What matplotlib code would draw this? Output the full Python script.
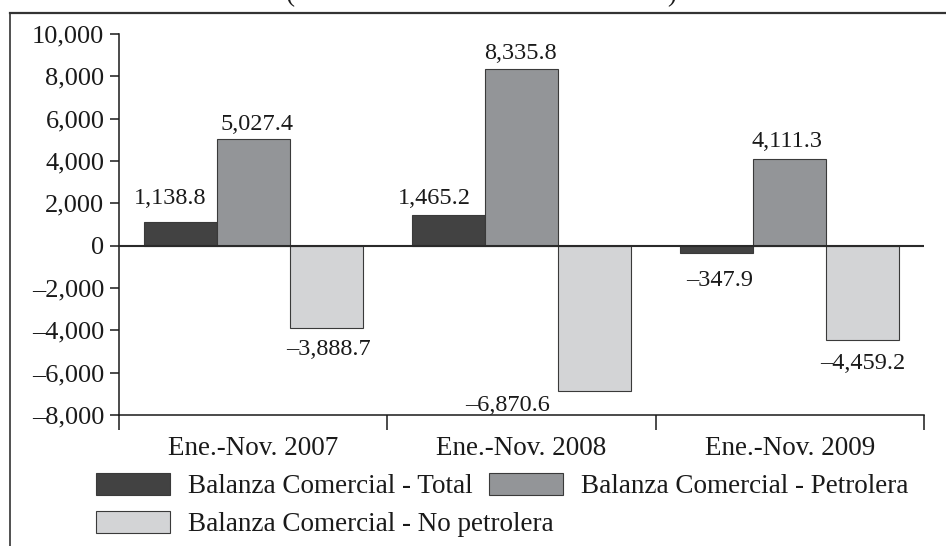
import matplotlib
matplotlib.use("Agg")
import matplotlib.pyplot as plt
import numpy as np
from matplotlib.patches import Patch
from matplotlib.lines import Line2D
from matplotlib.ticker import FixedLocator, FuncFormatter

categories = ["Ene.-Nov. 2007", "Ene.-Nov. 2008", "Ene.-Nov. 2009"]
series_names = ["Balanza Comercial - Total", "Balanza Comercial - Petrolera",
                "Balanza Comercial - No petrolera"]
total = [1138.8, 1465.2, -347.9]
petrolera = [5027.4, 8335.8, 4111.3]
no_petrolera = [-3888.7, -6870.6, -4459.2]
yticks = [-8000, -6000, -4000, -2000, 0, 2000, 4000, 6000, 8000, 10000]

colors = ["#424242", "#939598", "#d3d4d6"]
num_font = "Liberation Serif"
txt_font = "Liberation Serif"

def fmt(v, decimals=1):
    s = f"{abs(v):,.{decimals}f}"
    return ("\u2013" + s) if v < 0 else s

fig = plt.figure(figsize=(9.46, 5.46), dpi=100)
ax = fig.add_axes([119/946, 1-415/546, (924-119)/946, (415-34)/546])

n = len(categories)
x = np.arange(n)
w = 0.272
series = [total, petrolera, no_petrolera]
bars = []
for i, vals in enumerate(series):
    b = ax.bar(x + (i-1)*w, vals, width=w, color=colors[i], edgecolor="#3a3a3a",
               linewidth=0.8, zorder=2)
    bars.append(b)

ax.set_xlim(-0.5, n-0.5)
ax.set_ylim(-8000, 10000)
ax.axhline(0, color="#2a2a2a", lw=1.5, zorder=3)

# value labels (offsets in points, hand-placed as in reference)
offsets = [
    [(-7, 9), (3, 3), (2, -8)],
    [(-10, 4), (-1, 4), (-6, -3)],
    [(2, -12), (-2, 5), (0, -9)],
]
for ci in range(n):
    for si, vals in enumerate(series):
        v = vals[ci]
        rect = bars[si][ci]
        xc = rect.get_x() + rect.get_width()/2
        dx, dy = offsets[ci][si]
        ha = "center"
        if ci == 1 and si == 2:
            xc = rect.get_x()
            ha = "right"
        ax.annotate(fmt(v), (xc, v), xytext=(dx, dy), textcoords="offset points",
                    ha=ha, va="bottom" if dy > 0 else "top",
                    fontsize=17.5, family=num_font, color="#1a1a1a")

# axes styling
for s in ["top", "right"]:
    ax.spines[s].set_visible(False)
for s in ["left", "bottom"]:
    ax.spines[s].set_linewidth(1.1)
    ax.spines[s].set_color("#1a1a1a")

ax.yaxis.set_major_locator(FixedLocator(yticks))
ax.yaxis.set_major_formatter(FuncFormatter(lambda v, p: fmt(v, 0)))
ax.tick_params(axis="y", direction="out", length=6.5, width=1.1, color="#1a1a1a",
               pad=4, labelsize=19, labelcolor="#1a1a1a")
for lab in ax.get_yticklabels():
    lab.set_family(num_font)

ax.set_xticks(x)
ax.set_xticklabels(categories, family=txt_font, fontsize=19.5, color="#1a1a1a")
ax.tick_params(axis="x", which="major", length=0, pad=15)
ax.set_xticks(np.arange(n+1) - 0.5, minor=True)
ax.tick_params(axis="x", which="minor", direction="out", length=11, width=1.1,
               color="#1a1a1a")

# legend
handles = [Patch(facecolor=colors[i], edgecolor="#3a3a3a", linewidth=0.8)
           for i in range(3)]
leg1 = fig.legend([handles[0], handles[1]], [series_names[0], series_names[1]],
                  loc="center left", bbox_to_anchor=(96/946, 1-486/546), ncol=2,
                  frameon=False, borderpad=0, borderaxespad=0,
                  handlelength=2.75, handleheight=0.9, handletextpad=0.65,
                  columnspacing=0.6, prop={"family": txt_font, "size": 19.5})
leg2 = fig.legend([handles[2]], [series_names[2]],
                  loc="center left", bbox_to_anchor=(96/946, 1-524/546),
                  frameon=False, borderpad=0, borderaxespad=0,
                  handlelength=2.75, handleheight=0.9, handletextpad=0.65,
                  prop={"family": txt_font, "size": 19.5})
for lg in (leg1, leg2):
    for t in lg.get_texts():
        t.set_color("#1a1a1a")

# outer frame (top and left only visible)
fig.add_artist(Line2D([10/946, 10/946], [0, 1-13/546], color="#333333", lw=1.2,
                      transform=fig.transFigure))
fig.add_artist(Line2D([10/946, 1], [1-13/546, 1-13/546], color="#333333", lw=1.6,
                      transform=fig.transFigure))

# cut-off title remnants
fig.text(290/946, 1-1/546, "(", family=txt_font, fontsize=19.5, va="baseline",
         ha="center", color="#1a1a1a")
fig.text(672/946, 1-1/546, ")", family=txt_font, fontsize=19.5, va="baseline",
         ha="center", color="#1a1a1a")

fig.savefig("out.png", dpi=100)
